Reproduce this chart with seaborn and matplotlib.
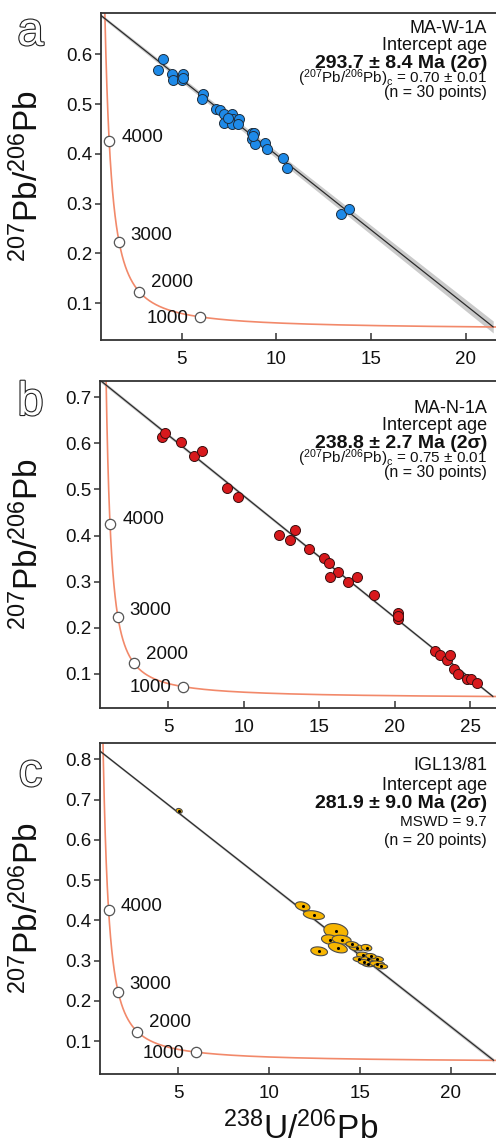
import numpy as np
import pandas as pd
import matplotlib
matplotlib.use("Agg")
import matplotlib.pyplot as plt
import matplotlib.patheffects as pe
from matplotlib.patches import Polygon
import seaborn as sns

sns.set_theme(style="white")
plt.rcParams["font.family"] = ["Liberation Sans", "DejaVu Sans"]
plt.rcParams["mathtext.fontset"] = "custom"
plt.rcParams["mathtext.rm"] = "Liberation Sans"
plt.rcParams["mathtext.it"] = "Liberation Sans:italic"
plt.rcParams["mathtext.bf"] = "Liberation Sans:bold"

# ---------------------------------------------------------------- data
# Tera-Wasserburg constants
LAMBDA_238 = 1.55125e-10   # 1/yr
LAMBDA_235 = 9.8485e-10    # 1/yr
U238_U235 = 137.88

concordia_ages = np.arange(150, 5001, 5)          # Ma, curve sampling
marker_ages = [1000, 2000, 3000, 4000]            # Ma, labelled points

# sample MA-W-1A
a_u238_pb206 = [3.98, 3.73, 4.50, 4.56, 5.08, 5.00, 6.11, 6.09, 6.81, 7.02,
                7.23, 7.67, 7.25, 7.69, 7.64, 8.04, 7.96, 8.69, 8.83, 8.71,
                8.88, 9.40, 9.50, 10.33, 10.57, 13.39, 13.83, 7.45, 8.76, 5.04]
a_pb207_pb206 = [0.590, 0.569, 0.560, 0.549, 0.560, 0.549, 0.520, 0.510, 0.491, 0.489,
                 0.480, 0.481, 0.461, 0.470, 0.460, 0.470, 0.460, 0.441, 0.441, 0.430,
                 0.420, 0.421, 0.410, 0.391, 0.371, 0.280, 0.290, 0.472, 0.436, 0.553]

# sample MA-N-1A
b_u238_pb206 = [4.62, 4.80, 5.86, 6.70, 7.25, 8.89, 9.66, 12.37, 13.08, 13.41,
                14.32, 15.33, 15.64, 16.26, 15.75, 16.92, 17.50, 18.66, 20.19, 20.21,
                22.68, 22.97, 23.46, 23.68, 23.89, 24.16, 24.78, 25.05, 25.44, 20.20]
b_pb207_pb206 = [0.613, 0.623, 0.602, 0.573, 0.584, 0.503, 0.483, 0.402, 0.391, 0.412,
                 0.371, 0.351, 0.341, 0.321, 0.311, 0.300, 0.311, 0.270, 0.231, 0.219,
                 0.150, 0.140, 0.129, 0.140, 0.111, 0.100, 0.089, 0.089, 0.080, 0.225]

# sample IGL13/81 (centre, 1-sigma half axes, error correlation)
c_u238_pb206 = [5.05, 11.85, 12.47, 13.68, 13.35, 14.00, 13.79, 12.76, 14.82, 15.37,
                15.19, 14.97, 15.43, 15.93, 15.46, 15.96, 15.61, 15.23, 16.16, 14.58]
c_pb207_pb206 = [0.672, 0.435, 0.413, 0.373, 0.352, 0.352, 0.332, 0.323, 0.332, 0.332,
                 0.313, 0.303, 0.303, 0.304, 0.291, 0.292, 0.311, 0.296, 0.286, 0.340]
c_sx = [0.17, 0.40, 0.58, 0.66, 0.46, 0.52, 0.52, 0.46, 0.40, 0.29,
        0.37, 0.34, 0.34, 0.37, 0.34, 0.40, 0.29, 0.32, 0.37, 0.34]
c_sy = [0.006, 0.011, 0.011, 0.019, 0.012, 0.011, 0.013, 0.011, 0.008, 0.008,
        0.008, 0.0065, 0.0065, 0.007, 0.0065, 0.007, 0.0065, 0.0065, 0.0065, 0.007]
c_rho = [-0.2, -0.3, -0.3, -0.2, -0.2, -0.2, -0.4, -0.2, -0.2, -0.2,
         -0.2, -0.2, -0.2, -0.2, -0.2, -0.2, -0.2, -0.2, -0.2, -0.2]

# discordia regressions
lower_intercept_age = [293.7, 238.8, 281.9]     # Ma
upper_intercept_ratio = [0.70, 0.75, 0.845]     # 207Pb/206Pb common
band_halfwidth = [(0.003, 0.012), (0.004, 0.003), (0.003, 0.005)]

sample_names = ["MA-W-1A", "MA-N-1A", "IGL13/81"]
age_texts = ["293.7 ± 8.4 Ma (2σ)", "238.8 ± 2.7 Ma (2σ)", "281.9 ± 9.0 Ma (2σ)"]
stat_texts = [r"$\mathregular{(^{207}Pb/^{206}Pb)_c}$ = 0.70 ± 0.01",
              r"$\mathregular{(^{207}Pb/^{206}Pb)_c}$ = 0.75 ± 0.01",
              "MSWD = 9.7"]
count_texts = ["(n = 30 points)", "(n = 30 points)", "(n = 20 points)"]
panel_letters = ["a", "b", "c"]

x_limits = [(0.73, 21.6), (0.5, 26.7), (0.69, 22.5)]
y_limits = [(0.026, 0.684), (0.026, 0.735), (0.018, 0.842)]
x_ticks = [[5, 10, 15, 20], [5, 10, 15, 20, 25], [5, 10, 15, 20]]
y_ticks = [[0.1, 0.2, 0.3, 0.4, 0.5, 0.6],
           [0.1, 0.2, 0.3, 0.4, 0.5, 0.6, 0.7],
           [0.1, 0.2, 0.3, 0.4, 0.5, 0.6, 0.7, 0.8]]

# ---------------------------------------------------------------- helpers
def tw_concordia(age_ma):
    t = np.asarray(age_ma, dtype=float) * 1e6
    e238 = np.expm1(LAMBDA_238 * t)
    e235 = np.expm1(LAMBDA_235 * t)
    return 1.0 / e238, e235 / (U238_U235 * e238)


W, H = 496, 1143
fig = plt.figure(figsize=(W / 100, H / 100), dpi=100)

# axes boxes in pixels: left, top, right, bottom
boxes = [(101, 12.5, 496, 340), (100, 381, 496, 708), (100, 742.5, 496, 1074)]
text_baselines = [(20.2, 37.5, 55.8, 70.5, 84.0),
                  (31.7, 49.0, 67.3, 82.0, 95.5),
                  (28.0, 47.0, 65.5, 84.0, 102.5)]
letter_baselines = [45, 415, 786]

CONC_COLOR = "#f2896a"
LINE_COLOR = "#2b2b2b"
SPINE_COLOR = "#333333"
BLUE = "#1e8ae8"
RED = "#d8191c"
YELLOW = "#f7b500"

conc = pd.DataFrame(dict(zip(["x", "y"], tw_concordia(concordia_ages))))
mx, my = tw_concordia(marker_ages)
label_offsets = [(-8, -1, "right"), (8.5, 6.5, "left"), (8, 5, "left"), (9, 3, "left")]

for i in range(3):
    l, t, r, b = boxes[i]
    ax = fig.add_axes([l / W, 1 - b / H, (r - l) / W, (b - t) / H])
    ax.set_facecolor("white")

    # concordia and age markers
    sns.lineplot(data=conc, x="x", y="y", sort=False, estimator=None,
                 color=CONC_COLOR, lw=1.2, ax=ax, zorder=2)
    sns.scatterplot(x=mx, y=my, s=55, color="white", edgecolor="#555555",
                    linewidth=0.9, ax=ax, zorder=6)
    for age, x0, y0, (dx, dy, ha) in zip(marker_ages, mx, my, label_offsets):
        ax.annotate(str(age), (x0, y0), xytext=(dx, dy), textcoords="offset points",
                    ha=ha, va="center", fontsize=13.5, color="#111111", zorder=7)

    # discordia with confidence band
    xl, yl = tw_concordia(lower_intercept_age[i])
    y_up = upper_intercept_ratio[i]
    xs = np.linspace(0, float(xl), 200)
    ys = y_up + (float(yl) - y_up) * xs / float(xl)
    h0, h1 = band_halfwidth[i]
    hw = h0 + (h1 - h0) * xs / float(xl)
    ax.fill_between(xs, ys - hw, ys + hw, color="#bdbdbd", alpha=0.8, lw=0, zorder=1)
    sns.lineplot(x=xs, y=ys, color=LINE_COLOR, lw=0.9, ax=ax, zorder=3)

    # analyses
    if i == 0:
        sns.scatterplot(x=a_u238_pb206, y=a_pb207_pb206, s=52, color=BLUE,
                        edgecolor="#1f2f3f", linewidth=0.7, ax=ax, zorder=5)
    elif i == 1:
        sns.scatterplot(x=b_u238_pb206, y=b_pb207_pb206, s=52, color=RED,
                        edgecolor="#3a1010", linewidth=0.7, ax=ax, zorder=5)
    else:
        th = np.linspace(0, 2 * np.pi, 80)
        for cx, cy, sx, sy, rho in zip(c_u238_pb206, c_pb207_pb206, c_sx, c_sy, c_rho):
            ex = cx + sx * np.cos(th)
            ey = cy + sy * (rho * np.cos(th) + np.sqrt(1 - rho ** 2) * np.sin(th))
            ax.add_patch(Polygon(np.column_stack([ex, ey]), closed=True,
                                 facecolor=YELLOW, edgecolor="#4a4a4a", lw=0.8, zorder=4))
        sns.scatterplot(x=c_u238_pb206, y=c_pb207_pb206, s=5, color="black",
                        linewidth=0, ax=ax, zorder=5)

    ax.set_xlim(*x_limits[i])
    ax.set_ylim(*y_limits[i])
    ax.set_xticks(x_ticks[i])
    ax.set_yticks(y_ticks[i])
    ax.set_xticklabels([str(v) for v in x_ticks[i]])
    ax.set_yticklabels([f"{v:.1f}" for v in y_ticks[i]])
    ax.set_xlabel("")
    ax.set_ylabel("")
    ax.tick_params(axis="x", direction="in", length=5, width=1.1, colors=SPINE_COLOR,
                   labelcolor="#111111", labelsize=13.5, pad=8, bottom=True)
    ax.tick_params(axis="y", direction="out", length=4, width=1.1, colors=SPINE_COLOR,
                   labelcolor="#111111", labelsize=13.5, pad=2, left=True)
    for side in ["left", "bottom", "top"]:
        ax.spines[side].set_visible(True)
        ax.spines[side].set_color(SPINE_COLOR)
        ax.spines[side].set_linewidth(1.3)
    ax.spines["right"].set_visible(False)

    # annotation block, right aligned
    lines = [(sample_names[i], 13, "normal"), ("Intercept age", 13, "normal"),
             (age_texts[i], 14, "bold"), (stat_texts[i], 11, "normal"),
             (count_texts[i], 11.5, "normal")]
    for (txt, fs, fw), yb in zip(lines, text_baselines[i]):
        fig.text(487 / W, 1 - (t + yb) / H, txt, ha="right", va="baseline",
                 fontsize=fs, fontweight=fw, color="#111111")

    # y label and panel letter
    fig.text(28 / W, 1 - (t + b) / 2 / H, r"$\mathregular{^{207}Pb/^{206}Pb}$",
             rotation=90, ha="center", va="center", fontsize=24, color="#111111")
    fig.text(30.5 / W, 1 - letter_baselines[i] / H, panel_letters[i], ha="center",
             va="baseline", fontsize=34, color="white",
             path_effects=[pe.withStroke(linewidth=1.6, foreground="#222222")])

fig.text(301 / W, 1 - 1139 / H, r"$\mathregular{^{238}U/^{206}Pb}$",
         ha="center", va="baseline", fontsize=24, color="#111111")

fig.savefig("out.png", dpi=100, facecolor="white")
